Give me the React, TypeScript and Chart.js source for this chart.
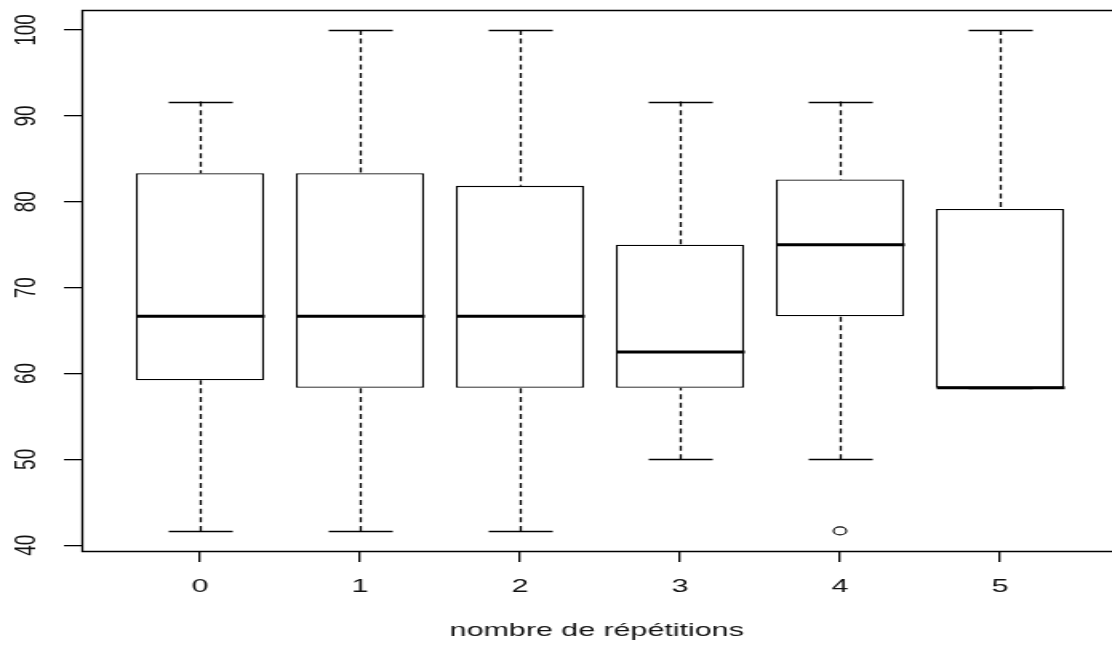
import React, { useEffect, useRef } from "react";
import { Chart, registerables } from "chart.js";

Chart.register(...registerables);

// ---- data ----
const categories = [0, 1, 2, 3, 4, 5];
const xTickLabels = ["0", "1", "2", "3", "4", "5"];
const yTickValues = [40, 50, 60, 70, 80, 90, 100];
const whiskerLow = [41.67, 41.67, 41.67, 50, 50, 58.33];
const q1 = [59.2, 58.33, 58.33, 58.33, 66.67, 58.33];
const median = [66.67, 66.67, 66.67, 62.5, 75, 58.33];
const q3 = [83.33, 83.33, 81.85, 75, 82.6, 79.17];
const whiskerHigh = [91.67, 100, 100, 91.67, 91.67, 100];
const outlierX = [4];
const outlierY = [41.67];
const xTitle = "nombre de répétitions";

const FONT = "'Liberation Sans', Arial, 'DejaVu Sans', sans-serif";
const BOX_HALF = 0.4; // half box width in category units (R boxwex 0.8)
const STAPLE_HALF = 0.2; // half staple width
const LW = 1.3;

const boxplotPlugin = {
  id: "boxplotExtras",
  afterDatasetsDraw(chart: any) {
    const { ctx, chartArea } = chart;
    const xs = chart.scales.x;
    const ys = chart.scales.y;
    ctx.save();
    ctx.strokeStyle = "#000";
    categories.forEach((c, i) => {
      const cx = Math.round(xs.getPixelForValue(c)) + 0.5;
      const hb = xs.getPixelForValue(c + BOX_HALF) - xs.getPixelForValue(c);
      const hs = xs.getPixelForValue(c + STAPLE_HALF) - xs.getPixelForValue(c);
      const yLo = ys.getPixelForValue(whiskerLow[i]);
      const yQ1 = ys.getPixelForValue(q1[i]);
      const yQ3 = ys.getPixelForValue(q3[i]);
      const yHi = ys.getPixelForValue(whiskerHigh[i]);
      const yMed = ys.getPixelForValue(median[i]);
      // dashed whiskers
      ctx.lineWidth = LW;
      ctx.setLineDash([5, 3.6]);
      if (Math.abs(yLo - yQ1) > 0.5) {
        ctx.beginPath();
        ctx.moveTo(cx, yLo);
        ctx.lineTo(cx, yQ1);
        ctx.stroke();
      }
      if (Math.abs(yHi - yQ3) > 0.5) {
        ctx.beginPath();
        ctx.moveTo(cx, yHi);
        ctx.lineTo(cx, yQ3);
        ctx.stroke();
      }
      ctx.setLineDash([]);
      // staples
      [yLo, yHi].forEach((yy) => {
        const py = Math.round(yy) + 0.5;
        ctx.beginPath();
        ctx.moveTo(cx - hs, py);
        ctx.lineTo(cx + hs, py);
        ctx.stroke();
      });
      // median
      ctx.lineWidth = 3;
      ctx.beginPath();
      ctx.moveTo(cx - hb, yMed);
      ctx.lineTo(cx + hb, yMed);
      ctx.stroke();
    });
    // plot frame (right side falls outside the picture)
    ctx.lineWidth = LW;
    const l = Math.round(chartArea.left) + 0.5;
    const t = Math.round(chartArea.top) + 0.5;
    const b = Math.round(chartArea.bottom) + 0.5;
    const r = chartArea.right + 2;
    ctx.beginPath();
    ctx.moveTo(r, t);
    ctx.lineTo(l, t);
    ctx.lineTo(l, b);
    ctx.lineTo(r, b);
    ctx.stroke();
    ctx.restore();
  },
};

export default function App() {
  const ref = useRef<HTMLCanvasElement | null>(null);

  useEffect(() => {
    document.body.style.margin = "0";
    const canvas = ref.current;
    if (!canvas) return;
    const chart = new Chart(canvas, {
      type: "bar",
      data: {
        datasets: [
          {
            type: "bar",
            data: categories.map((c, i) => ({ x: c, y: [q1[i], q3[i]] })) as any,
            backgroundColor: "#ffffff",
            borderColor: "#000000",
            borderWidth: LW,
            borderSkipped: false,
            barPercentage: 0.8,
            categoryPercentage: 1,
            order: 2,
          } as any,
          {
            type: "scatter",
            data: outlierX.map((x, i) => ({ x, y: outlierY[i] })),
            pointStyle: "circle",
            pointRadius: 4,
            pointBorderWidth: 1.1,
            pointBorderColor: "#000",
            pointBackgroundColor: "rgba(0,0,0,0)",
            showLine: false,
            order: 1,
          } as any,
        ],
      },
      options: {
        responsive: false,
        maintainAspectRatio: false,
        devicePixelRatio: 1,
        animation: false,
        layout: { autoPadding: false, padding: { top: 10, right: 0, bottom: 0, left: 0 } },
        plugins: {
          legend: { display: false },
          tooltip: { enabled: false },
        },
        scales: {
          x: {
            type: "linear",
            min: -0.74,
            max: 5.7,
            offset: false,
            afterBuildTicks: (s: any) => {
              s.ticks = categories.map((v) => ({ value: v }));
            },
            afterFit: (s: any) => {
              s.height = 95;
              s.paddingLeft = 0;
              s.paddingRight = 0;
            },
            ticks: {
              autoSkip: false,
              maxRotation: 0,
              minRotation: 0,
              padding: 13,
              color: "#111",
              font: { family: FONT, size: 19 },
              callback: (_v: any, idx: number) => xTickLabels[idx],
            },
            grid: {
              display: true,
              offset: false,
              drawOnChartArea: false,
              drawTicks: true,
              tickLength: 11,
              color: "#000",
              lineWidth: LW,
            },
            border: { display: false },
            title: {
              display: true,
              text: xTitle,
              color: "#111",
              font: { family: FONT, size: 19 },
              padding: { top: 0, bottom: 4 },
            },
          },
          y: {
            type: "linear",
            min: 39.33,
            max: 102.33,
            afterBuildTicks: (s: any) => {
              s.ticks = yTickValues.map((v) => ({ value: v }));
            },
            afterFit: (s: any) => {
              s.width = 51;
              s.paddingTop = 0;
              s.paddingBottom = 0;
            },
            ticks: {
              minRotation: 90,
              maxRotation: 90,
              crossAlign: "center",
              padding: 7,
              color: "#111",
              font: { family: FONT, size: 19 },
              callback: (v: any) => String(v),
            },
            grid: {
              display: true,
              drawOnChartArea: false,
              drawTicks: true,
              tickLength: 11,
              color: "#000",
              lineWidth: LW,
            },
            border: { display: false },
          },
        },
      } as any,
      plugins: [boxplotPlugin],
    });
    return () => chart.destroy();
  }, []);

  return (
    <canvas
      ref={ref}
      width={695}
      height={646}
      style={{ width: "1112px", height: "646px", display: "block" }}
    />
  );
}
